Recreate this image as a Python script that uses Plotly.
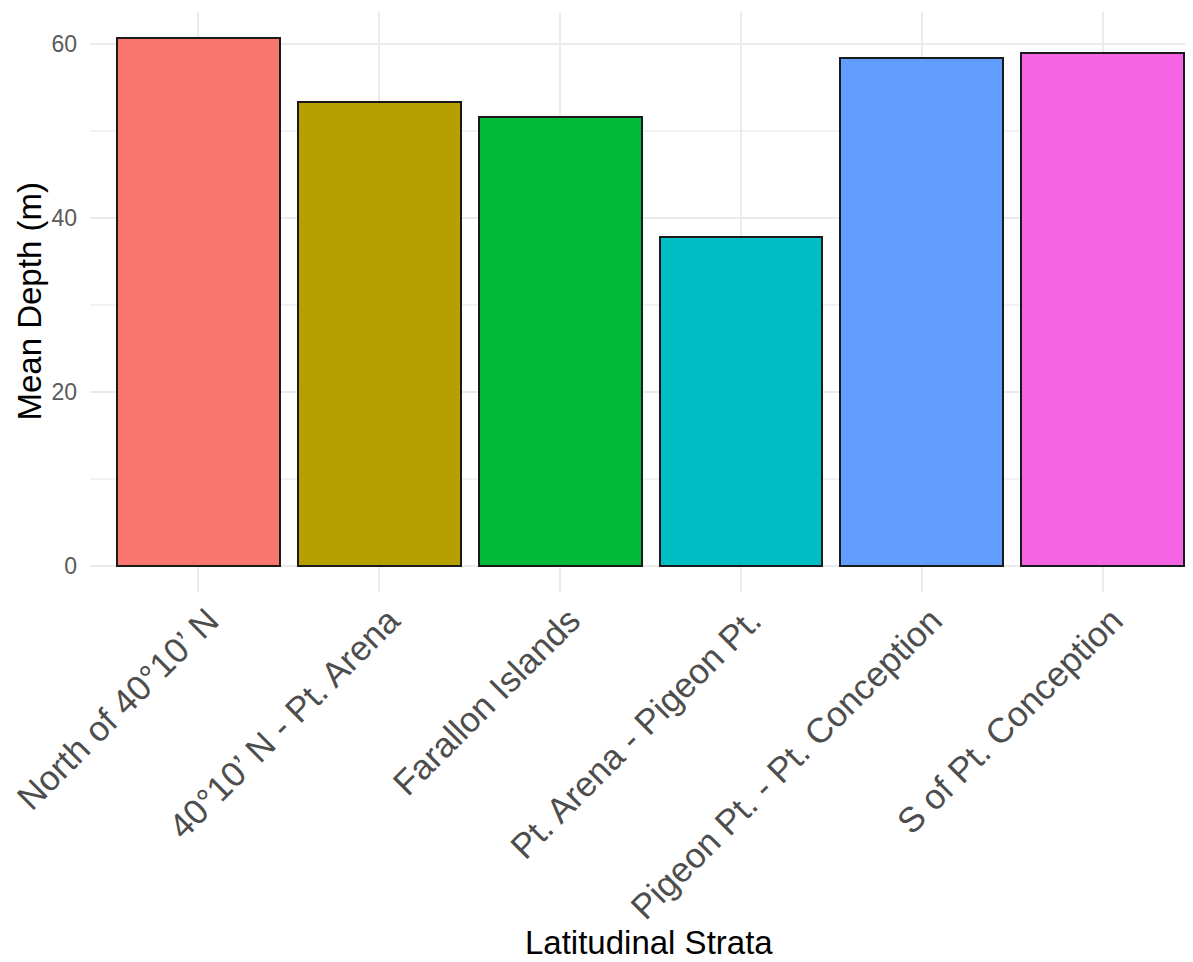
import plotly.graph_objects as go

categories = ["North of 40°10’ N", "40°10’ N - Pt. Arena", "Farallon Islands",
              "Pt. Arena - Pigeon Pt.", "Pigeon Pt. - Pt. Conception", "S of Pt. Conception"]
mean_depth = [60.6, 53.3, 51.6, 37.8, 58.3, 58.9]
bar_colors = ["#F8766D", "#B79F00", "#00BA38", "#00BFC4", "#619CFF", "#F564E3"]
y_ticks = [0, 20, 40, 60]
y_minor = [10, 30, 50]

# page has an 8px body margin; size the figure so it ends at the window edges
W, H = 1185, 954
L, R, T, B = 81.5, 0, 4, 370

fig = go.Figure()
fig.add_trace(go.Bar(
    x=categories, y=mean_depth, width=0.9,
    marker=dict(color=bar_colors, line=dict(color="#1a1a1a", width=2)),
    showlegend=False,
))

font_family = "Liberation Sans, Arial, sans-serif"
fig.update_layout(
    width=W, height=H,
    margin=dict(l=L, r=R, t=T, b=B, pad=0),
    paper_bgcolor="white", plot_bgcolor="white",
    font=dict(family=font_family),
    bargap=0,
)
fig.update_xaxes(
    type="category", range=[-0.6, 5.5],
    showgrid=True, gridcolor="#EBEBEB", gridwidth=2,
    tickangle=-45, tickfont=dict(size=35, color="#4D4D4D", family=font_family),
    ticks="", showline=False, zeroline=False,
    ticklabelstandoff=0, ticklabelshift=10,
)
fig.update_yaxes(
    range=[-3.03, 63.63], tickvals=y_ticks,
    showgrid=True, gridcolor="#EBEBEB", gridwidth=2,
    minor=dict(tickvals=y_minor, showgrid=True, gridcolor="#F2F2F2", gridwidth=1.5),
    tickfont=dict(size=23, color="#5A5A5A", family=font_family),
    ticks="", showline=False, zeroline=False,
    ticklabelstandoff=12,
)

pw = W - L - R
ph = H - T - B
fig.add_annotation(
    text="Latitudinal Strata", xref="paper", yref="paper",
    x=(641 - L) / pw, y=(T + ph - 934.5) / ph, xanchor="center", yanchor="middle",
    borderpad=0,
    showarrow=False, font=dict(size=33, color="black", family=font_family),
)
fig.add_annotation(
    text="Mean Depth (m)", xref="paper", yref="paper",
    x=(20 - L) / pw, y=(T + ph - 294) / ph, xanchor="center", yanchor="middle",
    textangle=-90, showarrow=False, font=dict(size=33, color="black", family=font_family),
)

fig.write_html("out.html")
